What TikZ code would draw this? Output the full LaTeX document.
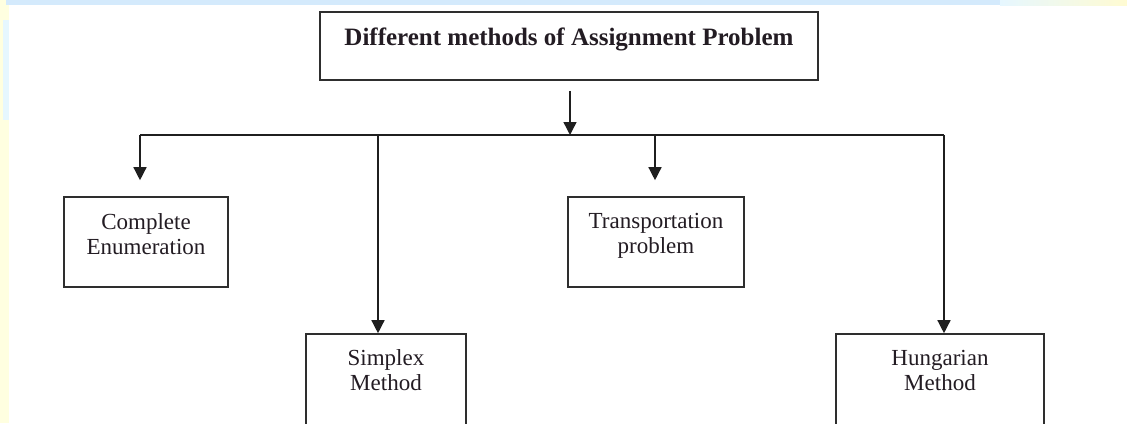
\documentclass[tikz,border=0pt]{standalone}
\usepackage{fontspec}
\setmainfont{Liberation Serif}
\usetikzlibrary{arrows.meta}
\definecolor{edge}{HTML}{2E2E2E}
\definecolor{inkc}{HTML}{231C23}
\definecolor{bandblue}{HTML}{D4EAFC}
\definecolor{bandcyan}{HTML}{E6F7FF}
\definecolor{bandyellow}{HTML}{FFFBD2}
\definecolor{stripyellow}{HTML}{FFFFE0}
\begin{document}
\begin{tikzpicture}[x=1pt,y=-1pt,
  box/.style={draw=edge, line width=1.6pt, inner sep=0pt, fill=white},
  lbl/.style={inner sep=0pt, align=center, text=inkc, font=\fontsize{23}{25}\selectfont},
  ttl/.style={inner sep=0pt, text=inkc, font=\fontsize{25}{28}\selectfont\bfseries},
  link/.style={draw=black!88, line width=1.4pt},
  arr/.style={link, -{Triangle[width=13pt,length=13pt]}}]
\clip (0,0) rectangle (1127,423);
\fill[white] (0,0) rectangle (1127,423);
% background edge bands
\fill[stripyellow] (0,0) rectangle (9,423);
\fill[bandcyan] (3,20) rectangle (9,120);
\fill[bandblue] (6,0) rectangle (1000,5);
\shade[left color=bandcyan, right color=bandyellow] (1000,0) rectangle (1127,5);
% boxes
\node[box, minimum width=498pt, minimum height=68pt] (top) at (569,46) {};
\node[ttl, anchor=base] (toptxt) at (569,45) {Different methods of Assignment Problem};
\node[box, minimum width=164pt, minimum height=90pt] (ce) at (146,242) {};
\node[lbl, anchor=base] (cetxt) at (146,254) {Complete\\Enumeration};
\node[box, minimum width=176pt, minimum height=90pt] (tp) at (656,242) {};
\node[lbl, anchor=base] (tptxt) at (656,253) {Transportation\\problem};
\node[box, minimum width=160pt, minimum height=110pt] (sm) at (386,389) {};
\node[lbl, anchor=base] (smtxt) at (386,390) {Simplex\\Method};
\node[box, minimum width=208pt, minimum height=110pt] (hm) at (940,389) {};
\node[lbl, anchor=base] (hmtxt) at (940,390) {Hungarian\\Method};
% connectors
\coordinate (j) at (570,135);
\coordinate (hl) at (140,135);
\coordinate (hr) at (944,135);
\coordinate (s0) at (378,135);
\coordinate (t1) at (655,135);
\draw[arr, shorten <=10pt] (top.south -| j) -- (j);
\draw[link] (hl) -- (hr);
\draw[arr, shorten >=16pt] (hl) -- (hl |- ce.north);
\draw[arr, shorten >=16pt] (t1) -- (t1 |- tp.north);
\draw[arr] (s0) -- (s0 |- sm.north);
\draw[arr] (hr) -- (hr |- hm.north);
\end{tikzpicture}
\end{document}
